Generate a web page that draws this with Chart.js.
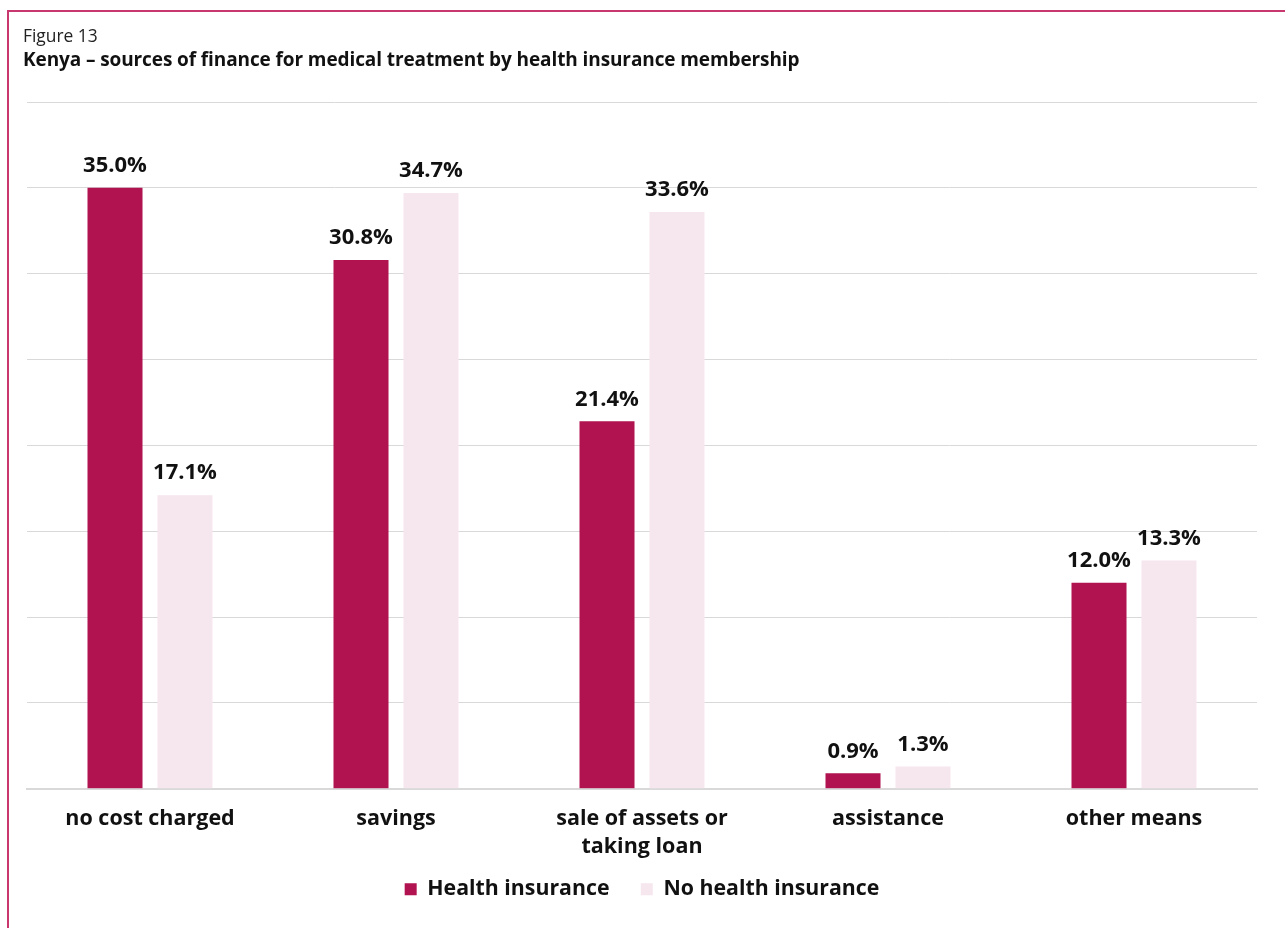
<!DOCTYPE html>
<html><head><meta charset="utf-8">
<script src="https://cdn.jsdelivr.net/npm/chart.js@4/dist/chart.umd.min.js"></script>
<style>
html,body{margin:0;padding:0;background:#fff;width:1285px;height:928px;overflow:hidden;font-family:"Open Sans",sans-serif;}
#frame{position:absolute;left:7px;top:10px;right:0;bottom:0;border-top:2px solid #c8376e;border-left:2px solid #c8376e;}
#t1{position:absolute;left:23px;top:23px;font-size:17.4px;color:#222;z-index:2;}
#t2{position:absolute;left:23px;top:46px;font-size:19px;font-weight:bold;color:#111;z-index:2;letter-spacing:-0.1px;}
canvas{position:absolute;left:0;top:0;}
</style></head>
<body>
<div id="frame"></div>
<div id="t1">Figure 13</div>
<div id="t2">Kenya – sources of finance for medical treatment by health insurance membership</div>
<canvas id="c" width="1285" height="928"></canvas>
<script>
const categories = ["no cost charged", "savings", ["sale of assets or", "taking loan"], "assistance", "other means"];
const healthInsurance = [35.0, 30.8, 21.4, 0.9, 12.0];
const noHealthInsurance = [17.1, 34.7, 33.6, 1.3, 13.3];
const seriesNames = ["Health insurance", "No health insurance"];

const FONT = '"Open Sans", sans-serif';
const labelPlugin = {
  id: 'vals',
  afterDatasetsDraw(chart) {
    const ctx = chart.ctx;
    ctx.save();
    ctx.font = 'bold 22px ' + FONT;
    ctx.fillStyle = '#111';
    ctx.textAlign = 'center';
    ctx.textBaseline = 'bottom';
    chart.data.datasets.forEach((ds, i) => {
      chart.getDatasetMeta(i).data.forEach((bar, j) => {
        ctx.fillText(ds.data[j].toFixed(1) + '%', bar.x, bar.y - 11);
      });
    });
    ctx.restore();
  }
};

new Chart(document.getElementById('c'), {
  type: 'bar',
  data: {
    labels: categories,
    datasets: [
      {label: seriesNames[0], data: healthInsurance, backgroundColor: '#b0134f', categoryPercentage: 0.569, barPercentage: 0.786},
      {label: seriesNames[1], data: noHealthInsurance, backgroundColor: '#f6e6ee', categoryPercentage: 0.569, barPercentage: 0.786}
    ]
  },
  options: {
    responsive: false,
    animation: false,
    layout: {padding: {left: 27, right: 28, top: 102, bottom: 18}},
    plugins: {
      legend: {
        position: 'bottom',
        labels: {
          boxWidth: 12, boxHeight: 12, padding: 10, color: '#111',
          font: {family: FONT, size: 21.3, weight: 'bold'},
          generateLabels(chart) {
            const items = Chart.defaults.plugins.legend.labels.generateLabels(chart);
            items.forEach((it, i) => { if (i < items.length - 1) it.text = it.text + '\u2003'; });
            return items;
          }
        }
      },
      tooltip: {enabled: false}
    },
    scales: {
      x: {
        grid: {display: false},
        border: {color: '#d9d9d9', width: 2},
        ticks: {color: '#111', padding: 8, font: {family: FONT, size: 21.5, weight: 'bold', lineHeight: 1.3}, maxRotation: 0}
      },
      y: {
        min: 0, max: 40,
        ticks: {display: false, stepSize: 5},
        grid: {color: '#d9d9d9', lineWidth: 1, drawTicks: false},
        border: {display: false}
      }
    }
  },
  plugins: [labelPlugin]
});
</script>
</body></html>
